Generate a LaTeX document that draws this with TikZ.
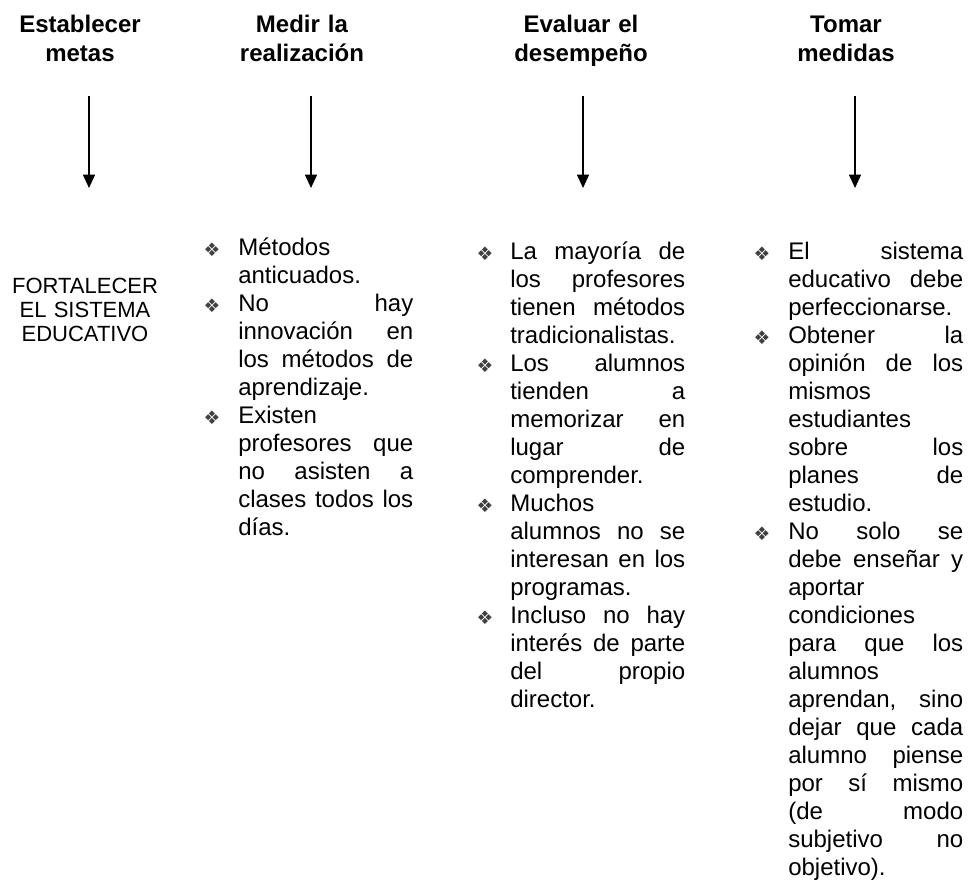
\documentclass[tikz,border=0pt]{standalone}
\usepackage{fontspec}
\setmainfont{Liberation Sans}
\newfontfamily\symfont{DejaVu Sans}
\usetikzlibrary{arrows.meta}

% width of a text column
\newlength{\colw}
\setlength{\colw}{131.25pt}
% one fully justified line of a column: the word spaces share the slack
\newcommand{\jl}[1]{{\spaceskip=\fontdimen2\font plus 1fil\relax
  \makebox[\colw][s]{#1}}}

\begin{document}
\begin{tikzpicture}[x=0.75pt,y=-0.75pt,
  head/.style={font=\fontsize{18}{21.75}\selectfont\bfseries, text width=150pt,
    align=center, inner sep=0pt, anchor=base},
  goal/.style={font=\fontsize{16.5}{18}\selectfont, text width=127.5pt,
    align=center, inner sep=0pt, anchor=base},
  body/.style={font=\fontsize{18}{21}\selectfont, text width=\colw,
    align=left, inner sep=0pt, anchor=base west},
  bulletmark/.style={font=\symfont\fontsize{14}{14}\selectfont,
    inner sep=0pt, anchor=base, text=black!75},
  flow/.style={line width=1.1pt, -{Triangle[width=9pt,length=10pt]}}
]
\useasboundingbox (0,0) rectangle (969,888);

% column headings
\node[head] (h1) at (80,33)  {Establecer\\metas};
\node[head] (h2) at (302,33) {Medir la\\realización};
\node[head] (h3) at (581,33) {Evaluar el\\desempeño};
\node[head] (h4) at (846,33) {Tomar\\medidas};

% arrows below the headings
\coordinate (t1) at (89,96);  \coordinate (e1) at (89,188);
\coordinate (t2) at (311,96); \coordinate (e2) at (311,188);
\coordinate (t3) at (583,96); \coordinate (e3) at (583,188);
\coordinate (t4) at (855,96); \coordinate (e4) at (855,188);
\draw[flow] (t1) -- (e1);
\draw[flow] (t2) -- (e2);
\draw[flow] (t3) -- (e3);
\draw[flow] (t4) -- (e4);

% goal
\node[goal] (g1) at (85,293) {FORTALECER\\EL SISTEMA\\EDUCATIVO};

% measuring
\node[body] (c2) at (238,255) {Métodos\\
anticuados.\\
\jl{No hay}\\
\jl{innovación en}\\
\jl{los métodos de}\\
aprendizaje.\\
Existen\\
\jl{profesores que}\\
\jl{no asisten a}\\
\jl{clases todos los}\\
días.};
\node[bulletmark] (b21) at (212,256) {❖};
\node[bulletmark] (b22) at (212,312) {❖};
\node[bulletmark] (b23) at (212,424) {❖};

% evaluating
\node[body] (c3) at (510,259) {\jl{La mayoría de}\\
\jl{los profesores}\\
\jl{tienen métodos}\\
tradicionalistas.\\
\jl{Los alumnos}\\
\jl{tienden a}\\
\jl{memorizar en}\\
\jl{lugar de}\\
comprender.\\
Muchos\\
\jl{alumnos no se}\\
\jl{interesan en los}\\
programas.\\
\jl{Incluso no hay}\\
\jl{interés de parte}\\
\jl{del propio}\\
director.};
\node[bulletmark] (b31) at (485,260) {❖};
\node[bulletmark] (b32) at (485,372) {❖};
\node[bulletmark] (b33) at (485,512) {❖};
\node[bulletmark] (b34) at (485,624) {❖};

% actions
\node[body] (c4) at (788,259) {\jl{El sistema}\\
\jl{educativo debe}\\
perfeccionarse.\\
\jl{Obtener la}\\
\jl{opinión de los}\\
mismos\\
estudiantes\\
\jl{sobre los}\\
\jl{planes de}\\
estudio.\\
\jl{No solo se}\\
\jl{debe enseñar y}\\
aportar\\
condiciones\\
\jl{para que los}\\
alumnos\\
\jl{aprendan, sino}\\
\jl{dejar que cada}\\
\jl{alumno piense}\\
\jl{por sí mismo}\\
\jl{(de modo}\\
\jl{subjetivo no}\\
objetivo).};
\node[bulletmark] (b41) at (762,260) {❖};
\node[bulletmark] (b42) at (762,344) {❖};
\node[bulletmark] (b43) at (762,540) {❖};
\end{tikzpicture}
\end{document}
